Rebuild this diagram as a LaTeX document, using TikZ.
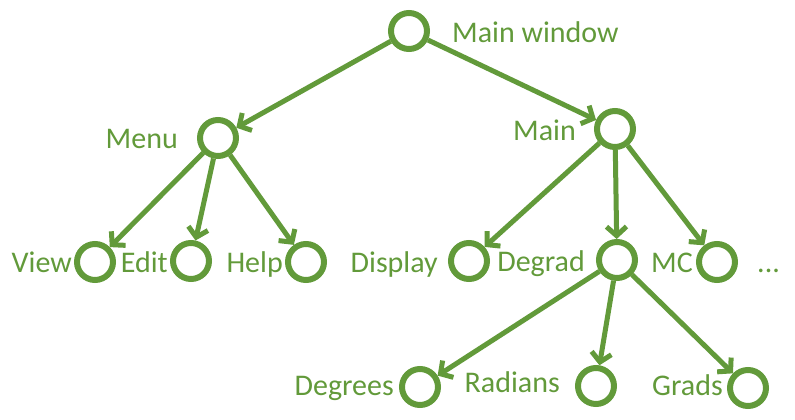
\documentclass[tikz,border=0pt]{standalone}
\usepackage{fontspec}
\setmainfont{Carlito}
\usetikzlibrary{arrows.meta}
\definecolor{leaf}{RGB}{98,154,58}

\begin{document}
\begin{tikzpicture}[x=1pt,y=-1pt]

      \useasboundingbox (0,0) rectangle (795,420);

      \begin{scope}[every node/.style={circle,draw=leaf,line width=6pt,minimum size=36pt,inner sep=0pt}]
        \node (win)     at (409,31)  {};
        \node (menu)    at (218,138) {};
        \node (main)    at (615,129) {};
        \node (view)    at (95,262)  {};
        \node (edit)    at (191,261) {};
        \node (help)    at (306,262) {};
        \node (display) at (469,261) {};
        \node (degrad)  at (617,260) {};
        \node (mc)      at (717,262) {};
        \node (degrees) at (420,387) {};
        \node (radians) at (596,386) {};
        \node (grads)   at (748,388) {};
      \end{scope}

      \begin{scope}[every node/.style={text=leaf,inner sep=0pt,font=\fontsize{30}{35}\selectfont,anchor=base east}]
        \node[anchor=base west] (twin) at (452,43) {Main window};
        \node (tmenu)    at (178,148) {Menu};
        \node (tmain)    at (576,140) {Main};
        \node (tview)    at (72,272)  {View};
        \node (tedit)    at (168,272) {Edit};
        \node (thelp)    at (283,272) {Help};
        \node (tdisplay) at (438,272) {Display};
        \node (tdegrad)  at (585,271) {Degrad};
        \node (tmc)      at (693,272) {MC};
        \node[anchor=base west] (tmore) at (757,272) {...};
        \node (tdegrees) at (394,395) {Degrees};
        \node (tradians) at (560,392) {Radians};
        \node (tgrads)   at (723,395) {Grads};
      \end{scope}

      \begin{scope}[every edge/.style={draw=leaf,line width=5pt,-{Straight Barb[length=9pt,width=20pt]}}]
        \path (win)    edge (menu);
        \path (win)    edge (main);
        \path (menu)   edge (view);
        \path (menu)   edge (edit);
        \path (menu)   edge (help);
        \path (main)   edge (display);
        \path (main)   edge (degrad);
        \path (main)   edge (mc);
        \path (degrad) edge (degrees);
        \path (degrad) edge (radians);
        \path (degrad) edge (grads);
      \end{scope}

    \end{tikzpicture}
\end{document}
